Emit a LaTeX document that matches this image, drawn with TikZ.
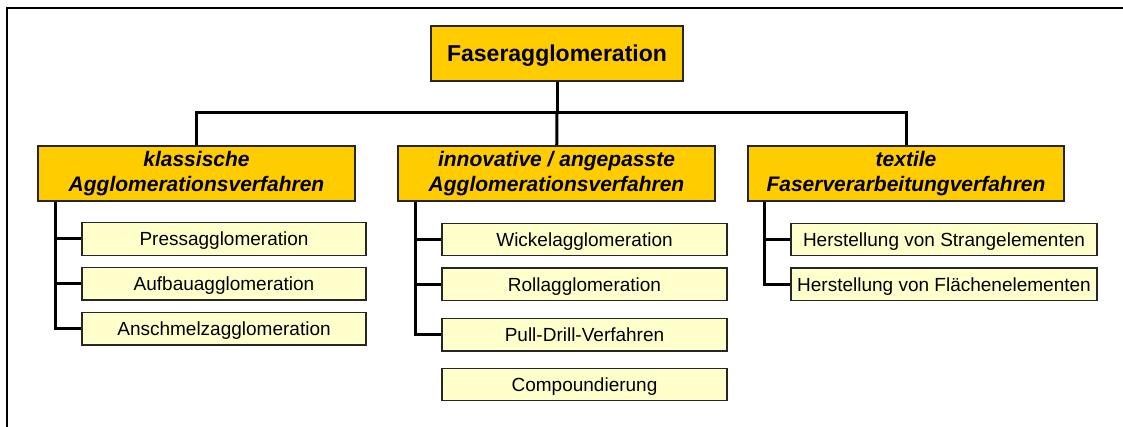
\documentclass[tikz,border=0pt]{standalone}
\usepackage{fontspec}
\setmainfont{Liberation Sans}
\usepackage{xcolor}
\usetikzlibrary{positioning,calc}
\definecolor{gold}{HTML}{FFCC00}
\definecolor{pale}{HTML}{FFFFCC}

\begin{document}
\begin{tikzpicture}[x=1pt, y=-1pt,
    mainbox/.style={rectangle, draw=black!85, line width=1.3pt, fill=gold, inner sep=0pt, align=center},
    leaf/.style={rectangle, draw=black!85, line width=1.3pt, fill=pale, inner sep=0pt, minimum height=32.5pt, text depth=0pt, font=\fontsize{19}{22}\selectfont},
    link/.style={line width=3pt}]
    \useasboundingbox (0,0) rectangle (1123,427);
    % frame
    \draw[line width=1.8pt] (7,427) -- (7,8) -- (1123,8);

    \node (top) [mainbox, minimum width=252pt, minimum height=55pt, text depth=0pt, font=\fontsize{23}{27}\selectfont\bfseries] at (557,53.5) {Faseragglomeration};
    \node (klass) [mainbox, minimum width=317pt, minimum height=55pt, font=\fontsize{21}{25.5}\selectfont\bfseries\itshape] at (196.5,173.5) {klassische\\Agglomerationsverfahren};
    \node (innov) [mainbox, minimum width=317pt, minimum height=55pt, font=\fontsize{21}{25.5}\selectfont\bfseries\itshape] at (556.5,173.5) {innovative / angepasste\\Agglomerationsverfahren};
    \node (textil) [mainbox, minimum width=316pt, minimum height=55pt, font=\fontsize{21}{25.5}\selectfont\bfseries\itshape] at (906,173.5) {textile\\Faserverarbeitungverfahren};

    \node (press) [leaf, minimum width=284pt] at (224,239) {Pressagglomeration};
    \node (aufbau) [leaf, minimum width=284pt, below=11pt of press] {Aufbauagglomeration};
    \node (anschmelz) [leaf, minimum width=284pt, below=11pt of aufbau] {Anschmelzagglomeration};

    \node (wickel) [leaf, minimum width=285pt] at (584.5,239.5) {Wickelagglomeration};
    \node (roll) [leaf, minimum width=285pt, below=11pt of wickel] {Rollagglomeration};
    \node (pull) [leaf, minimum width=285pt, below=16.5pt of roll] {Pull-Drill-Verfahren};
    \node (compound) [leaf, minimum width=285pt, below=16pt of pull] {Compoundierung};

    \node (strang) [leaf, minimum width=306pt] at (944,239.5) {Herstellung von Strangelementen};
    \node (flaeche) [leaf, minimum width=306pt, below=11pt of strang] {Herstellung von Flächenelementen};

    \coordinate (bus) at (557,113);
    \coordinate (kbar) at (55,201);
    \coordinate (ibar) at (415,201);
    \coordinate (tbar) at (764,201);

    \draw[link] (top) -- (bus);
    \draw[link] (bus) -| (klass);
    \draw[link] (bus) -- (innov);
    \draw[link] (bus) -| (textil);

    \draw[link] (kbar) |- (press);
    \draw[link] (kbar) |- (aufbau);
    \draw[link] (kbar) |- (anschmelz);

    \draw[link] (ibar) |- (wickel);
    \draw[link] (ibar) |- (roll);
    \draw[link] (ibar) |- (pull);

    \draw[link] (tbar) |- (strang);
    \draw[link] (tbar) |- (flaeche);

    % redraw boxes over the line ends
    \foreach \n in {top,klass,innov,textil}
        \draw[line width=1.3pt, draw=black!85] (\n.north west) rectangle (\n.south east);
\end{tikzpicture}
\end{document}
